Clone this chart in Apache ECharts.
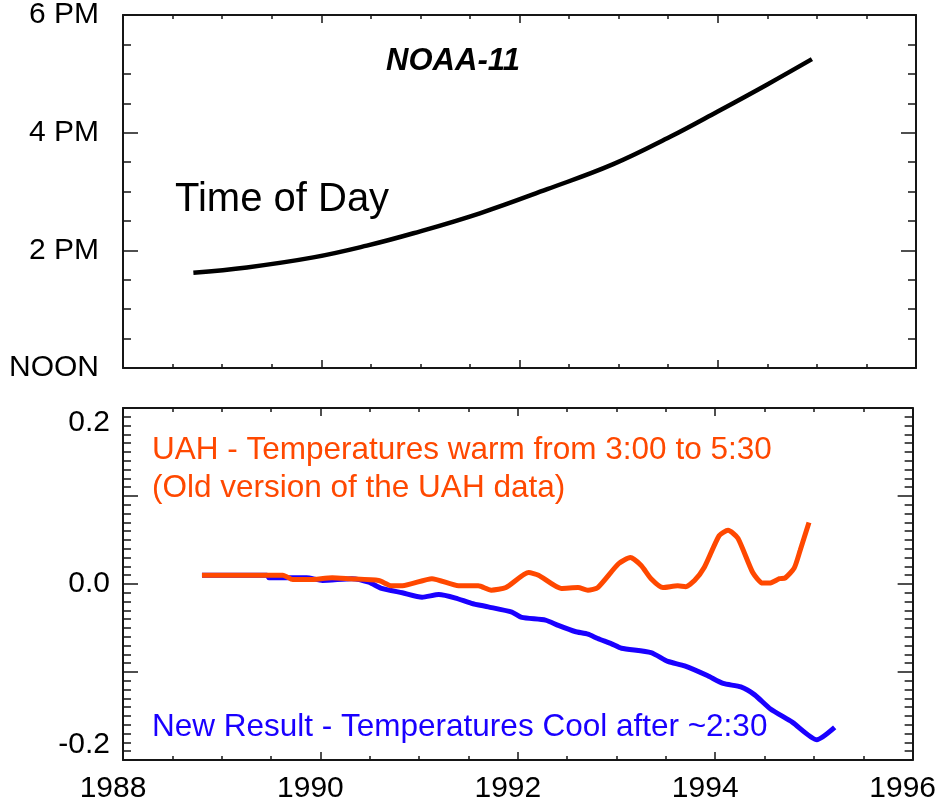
<!DOCTYPE html>
<html>
<head>
<meta charset="utf-8">
<title>NOAA-11 drift</title>
<script src="https://cdn.jsdelivr.net/npm/echarts@6/dist/echarts.min.js"></script>
<style>
  html, body { margin: 0; padding: 0; background: #ffffff; }
  #chart { width: 939px; height: 804px; }
</style>
</head>
<body>
<div id="chart"></div>
<script>
// Equator crossing time of NOAA-11 (hours after noon)
const timeYears = [1988.71, 1989.25, 1989.92, 1990.46, 1990.93, 1991.60, 1992.28, 1992.94, 1993.52, 1994.00, 1994.50, 1994.95];
const timeHours = [1.62, 1.71, 1.88, 2.08, 2.29, 2.63, 3.04, 3.46, 3.93, 4.36, 4.82, 5.25];

// Diurnal drift correction, new result
const newYears = [1988.80, 1989.46, 1989.48, 1989.86, 1990.02, 1990.32, 1990.49, 1990.62, 1990.83, 1991.03, 1991.20, 1991.37, 1991.53, 1991.70, 1991.94, 1992.04, 1992.28, 1992.41, 1992.58, 1992.71, 1992.81, 1992.95, 1993.05, 1993.35, 1993.52, 1993.69, 1993.92, 1994.08, 1994.26, 1994.40, 1994.56, 1994.78, 1995.03, 1995.21];
const newValues = [0.010, 0.010, 0.007, 0.007, 0.004, 0.006, 0.002, -0.005, -0.010, -0.015, -0.012, -0.016, -0.022, -0.026, -0.032, -0.038, -0.041, -0.047, -0.054, -0.057, -0.062, -0.068, -0.073, -0.078, -0.088, -0.093, -0.104, -0.113, -0.117, -0.126, -0.142, -0.157, -0.177, -0.163];

// Diurnal drift correction, old UAH version
const uahYears = [1988.80, 1989.62, 1989.72, 1989.89, 1990.12, 1990.29, 1990.59, 1990.72, 1990.83, 1991.13, 1991.40, 1991.60, 1991.73, 1991.88, 1992.11, 1992.21, 1992.44, 1992.61, 1992.71, 1992.81, 1993.02, 1993.14, 1993.25, 1993.35, 1993.47, 1993.62, 1993.70, 1993.79, 1993.89, 1994.04, 1994.13, 1994.23, 1994.38, 1994.48, 1994.55, 1994.65, 1994.71, 1994.80, 1994.86, 1994.95];
const uahValues = [0.010, 0.010, 0.005, 0.005, 0.007, 0.006, 0.004, -0.002, -0.002, 0.006, -0.002, -0.002, -0.007, -0.004, 0.013, 0.010, -0.005, -0.004, -0.007, -0.004, 0.023, 0.030, 0.021, 0.006, -0.004, -0.002, -0.003, 0.004, 0.019, 0.055, 0.061, 0.052, 0.013, 0.001, 0.001, 0.006, 0.007, 0.018, 0.038, 0.070];

// Axis tick labels
const hourTickLabels = ['NOON', '2 PM', '4 PM', '6 PM'];
const yearRange = [1988, 1996];

const pairs = (xs, ys) => xs.map((x, i) => [x, ys[i]]);

const FONT = '"Liberation Sans", Arial, Helvetica, sans-serif';
const INK = '#161616';
const ORANGE = '#ff4800';
const BLUE = '#1a00ff';

function xAxisFor(gridIndex, position, showLabels) {
  return {
    type: 'value', gridIndex, position,
    min: yearRange[0], max: yearRange[1], interval: 2,
    axisLine: { show: true, onZero: false, lineStyle: { color: INK, width: 2 } },
    axisTick: { show: true, inside: true, length: 8, lineStyle: { color: INK, width: 1.5 } },
    minorTick: { show: true, splitNumber: 4, length: 4, lineStyle: { color: INK, width: 1.5 } },
    splitLine: { show: false },
    minorSplitLine: { show: false },
    axisLabel: {
      show: showLabels, margin: 14, color: '#000',
      fontFamily: FONT, fontSize: 30,
      padding: [0, 20, 0, 0],
      formatter: v => String(v)
    }
  };
}

function hourAxis(position, showLabels) {
  return {
    type: 'value', gridIndex: 0, position,
    min: 0, max: 6, interval: 2,
    axisLine: { show: true, onZero: false, lineStyle: { color: INK, width: 2 } },
    axisTick: { show: true, inside: true, length: 15, lineStyle: { color: INK, width: 1.5 } },
    minorTick: { show: true, splitNumber: 4, length: 8, lineStyle: { color: INK, width: 1.5 } },
    splitLine: { show: false },
    minorSplitLine: { show: false },
    axisLabel: {
      show: showLabels, margin: 24, color: '#000',
      fontFamily: FONT, fontSize: 30,
      formatter: v => hourTickLabels[Math.round(v / 2)]
    }
  };
}

function tempAxis(position, showLabels) {
  return {
    type: 'value', gridIndex: 1, position,
    min: -0.2, max: 0.2, interval: 0.1,
    axisLine: { show: true, onZero: false, lineStyle: { color: INK, width: 2 } },
    axisTick: { show: true, inside: true, length: 15, lineStyle: { color: INK, width: 1.5 } },
    minorTick: { show: true, splitNumber: 10, length: 8, lineStyle: { color: INK, width: 1.5 } },
    splitLine: { show: false },
    minorSplitLine: { show: false },
    axisLabel: {
      show: showLabels, margin: 13, color: '#000',
      fontFamily: FONT, fontSize: 30,
      verticalAlignMaxLabel: 'top',
      verticalAlignMinLabel: 'bottom',
      formatter: v => (Math.round(v * 10) % 2 === 0 ? v.toFixed(1) : '')
    }
  };
}

const chart = echarts.init(document.getElementById('chart'), null, { renderer: 'canvas' });

chart.setOption({
  animation: false,
  backgroundColor: '#ffffff',
  grid: [
    { left: 123, top: 15, width: 793, height: 353 },
    { left: 123, top: 408, width: 793, height: 352 }
  ],
  xAxis: [
    xAxisFor(0, 'bottom', false),
    xAxisFor(0, 'top', false),
    xAxisFor(1, 'bottom', true),
    xAxisFor(1, 'top', false)
  ],
  yAxis: [
    hourAxis('left', true),
    hourAxis('right', false),
    tempAxis('left', true),
    tempAxis('right', false)
  ],
  series: [
    {
      name: 'Time of Day', type: 'line', xAxisIndex: 0, yAxisIndex: 0,
      data: pairs(timeYears, timeHours), smooth: 0.4, showSymbol: false,
      lineStyle: { color: '#000', width: 4.5 }, z: 3
    },
    {
      name: 'New Result', type: 'line', xAxisIndex: 2, yAxisIndex: 2,
      data: pairs(newYears, newValues), smooth: 0.2, showSymbol: false,
      lineStyle: { color: BLUE, width: 5 }, z: 3
    },
    {
      name: 'UAH', type: 'line', xAxisIndex: 2, yAxisIndex: 2,
      data: pairs(uahYears, uahValues), smooth: 0.2, showSymbol: false,
      lineStyle: { color: ORANGE, width: 5 }, z: 4
    }
  ],
  graphic: [
    {
      type: 'text', x: 453, y: 61,
      style: { text: 'NOAA-11', font: 'italic bold 31px ' + FONT, fill: '#000', align: 'center', verticalAlign: 'middle' }
    },
    {
      type: 'text', x: 175, y: 200,
      style: { text: 'Time of Day', font: '40px ' + FONT, fill: '#000', align: 'left', verticalAlign: 'middle' }
    },
    {
      type: 'text', x: 152, y: 450,
      style: { text: 'UAH - Temperatures warm from 3:00 to 5:30', font: '31.5px ' + FONT, fill: ORANGE, align: 'left', verticalAlign: 'middle' }
    },
    {
      type: 'text', x: 152, y: 488,
      style: { text: '(Old version of the UAH data)', font: '31.5px ' + FONT, fill: ORANGE, align: 'left', verticalAlign: 'middle' }
    },
    {
      type: 'text', x: 152, y: 727,
      style: { text: 'New Result - Temperatures Cool after ~2:30', font: '31.5px ' + FONT, fill: BLUE, align: 'left', verticalAlign: 'middle' }
    }
  ]
});
</script>
</body>
</html>
